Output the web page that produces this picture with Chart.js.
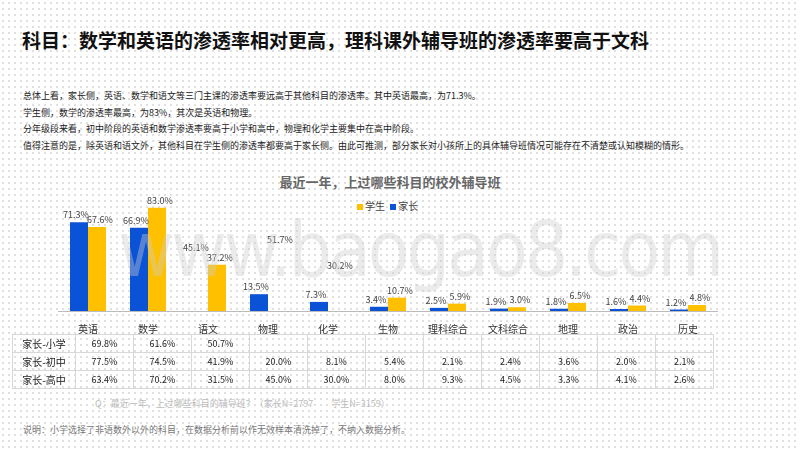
<!DOCTYPE html>
<html><head><meta charset="utf-8">
<script src="https://cdn.jsdelivr.net/npm/chart.js@4"></script>
<style>
body{margin:0;width:800px;height:450px;position:relative;overflow:hidden;font-family:"Noto Sans CJK SC",sans-serif;
background-color:#fff;background-image:radial-gradient(#cfcfcf 0.6px,transparent 0.9px);background-size:6px 6px;}
#title{position:absolute;left:22px;top:26px;font-size:19px;font-weight:bold;color:#111;}
#para{position:absolute;left:23px;top:88px;font-size:9px;line-height:16.7px;color:#222;}
#wm{position:absolute;left:118px;top:205px;font-size:76px;font-family:"DejaVu Sans Condensed","DejaVu Sans";color:rgba(205,205,205,0.4);letter-spacing:-3px;}
#ct{position:absolute;left:0;width:780px;text-align:center;top:172px;font-size:13px;font-weight:bold;color:#666;}
#lg{position:absolute;left:357px;top:198px;font-size:10px;color:#444;}
#lg span{display:inline-block;width:6px;height:6px;margin-right:2px;}
#cw{position:absolute;left:58px;top:185px;width:660px;height:154px;}
table{position:absolute;left:12px;top:334px;border-collapse:collapse;font-size:9px;color:#222;}
td{border:1.5px solid #d8d8d8;height:17px;width:57px;text-align:center;padding:0;}
td.h{width:62px;font-size:10px;}
#q{position:absolute;left:95px;top:397px;font-size:9px;color:#bbb;}
#note{position:absolute;left:23px;top:423px;font-size:9px;color:#777;}
</style></head><body>
<div id="title">科目：数学和英语的渗透率相对更高，理科课外辅导班的渗透率要高于文科</div>
<div id="para">总体上看，家长侧，英语、数学和语文等三门主课的渗透率要远高于其他科目的渗透率。其中英语最高，为71.3%。<br>学生侧，数学的渗透率最高，为83%，其次是英语和物理。<br>分年级段来看，初中阶段的英语和数学渗透率要高于小学和高中，物理和化学主要集中在高中阶段。<br>值得注意的是，除英语和语文外，其他科目在学生侧的渗透率都要高于家长侧。由此可推测，部分家长对小孩所上的具体辅导班情况可能存在不清楚或认知模糊的情形。</div>
<div id="ct">最近一年，上过哪些科目的校外辅导班</div>
<div id="lg"><span style="background:#ffc000"></span>学生 <span style="background:#0a52d6;margin-left:3px"></span>家长</div>
<div id="cw"><canvas id="c"></canvas></div>
<div id="wm">www.baogao8.com</div>
<table id="t"></table>
<div id="q">Q：最近一年，上过哪些科目的辅导班？（家长N=2797　　学生N=3159）</div>
<div id="note">说明：小学选择了非语数外以外的科目，在数据分析前以作无效样本清洗掉了，不纳入数据分析。</div>
<script>
const categories=["英语","数学","语文","物理","化学","生物","理科综合","文科综合","地理","政治","历史"];
const parents=[71.3,66.9,45.1,13.5,7.3,3.4,2.5,1.9,1.8,1.6,1.2];
const students=[67.6,83.0,37.2,51.7,30.2,10.7,5.9,3.0,6.5,4.4,4.8];
const rowLabels=["家长-小学","家长-初中","家长-高中"];
const primary=["69.8%","61.6%","50.7%","","","","","","","",""];
const middle=["77.5%","74.5%","41.9%","20.0%","8.1%","5.4%","2.1%","2.4%","3.6%","2.0%","2.1%"];
const high=["63.4%","70.2%","31.5%","45.0%","30.0%","8.0%","9.3%","4.5%","3.3%","4.1%","2.6%"];
const hiddenParent=["语文"], hiddenStudent=["物理","化学"];

const t=document.getElementById('t');
[primary,middle,high].forEach((r,i)=>{const tr=document.createElement('tr');
 tr.innerHTML='<td class="h">'+rowLabels[i]+'</td>'+r.map(v=>'<td>'+v+'</td>').join('');t.appendChild(tr);});

const BLUE='#0a52d6',YEL='#ffc000';
const labelPlugin={id:'lbl',afterDatasetsDraw(ch){const c=ch.ctx;c.save();c.font='9px "Noto Sans CJK SC"';c.fillStyle='#444';c.textAlign='center';
 ch.data.datasets.forEach((ds,di)=>{ch.getDatasetMeta(di).data.forEach((b,i)=>{c.fillText(ds.data[i].toFixed(1)+'%',b.x+(di===0?-3:3),b.y-4);});});c.restore();}};
new Chart(document.getElementById('c'),{type:'bar',
 data:{labels:categories,datasets:[
  {label:'家长',data:parents,backgroundColor:categories.map(c=>hiddenParent.includes(c)?'rgba(0,0,0,0)':BLUE)},
  {label:'学生',data:students,backgroundColor:categories.map(c=>hiddenStudent.includes(c)?'rgba(0,0,0,0)':YEL)}]},
 options:{responsive:true,maintainAspectRatio:false,animation:false,
  categoryPercentage:0.6,barPercentage:1,
  layout:{padding:{top:14,bottom:0}},
  plugins:{legend:{display:false},tooltip:{enabled:false}},
  scales:{y:{display:false,min:0,max:90},
   x:{grid:{display:false},border:{color:'#bbb'},ticks:{color:'#333',font:{size:10,family:'Noto Sans CJK SC'},padding:4}}}},
 plugins:[labelPlugin]});
</script></body></html>
